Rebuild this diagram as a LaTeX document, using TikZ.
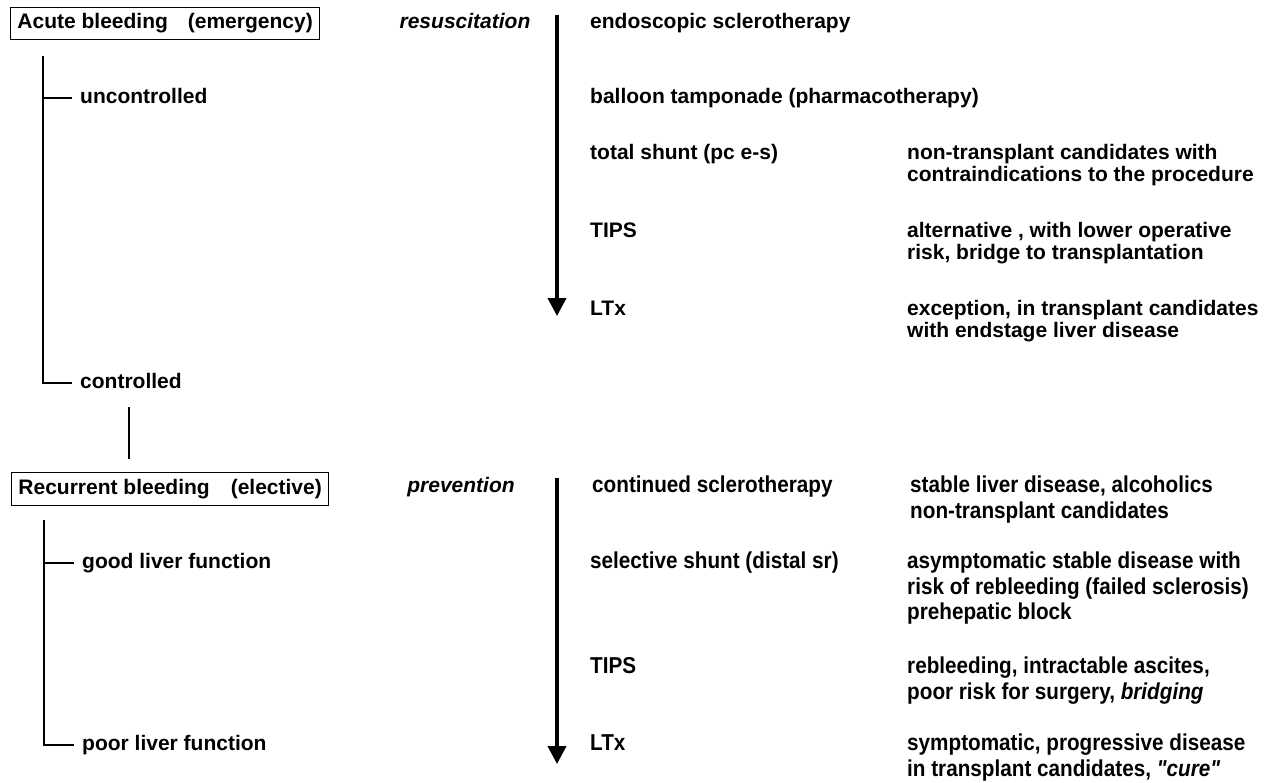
\documentclass[tikz,border=0pt]{standalone}
\usepackage{fontspec}
\setmainfont{Liberation Sans}
\newfontfamily\narrowfont[FakeStretch=0.9]{Liberation Sans}
\usetikzlibrary{arrows.meta}

\begin{document}
\begin{tikzpicture}[x=1pt, y=-1pt,
        every node/.style={font=\fontsize{21}{22}\selectfont\bfseries, inner sep=0pt},
        head/.style={draw, line width=0.9pt, anchor=west, inner xsep=7pt, inner ysep=6.5pt, text height=15pt, text depth=4.5pt},
        leaf/.style={anchor=west, inner xsep=8pt, text height=15pt, text depth=4.5pt},
        item/.style={anchor=west, text height=15pt, text depth=4.5pt},
        stage/.style={font=\fontsize{21}{22}\selectfont\bfseries\itshape, text height=15pt, text depth=4.5pt},
        para/.style={anchor=north west, align=left},
        low/.style={font=\fontsize{23}{25.5}\selectfont\narrowfont\bfseries},
        tree/.style={line width=1.4pt},
        flow/.style={line width=3.8pt, -{Triangle[width=18pt,length=18pt]}}]
        \useasboundingbox (0,0) rectangle (1266,782);
        % emergency
            \node[head] (acute) at (10,23.5) {Acute bleeding\hspace{0.95em}(emergency)};
            \node[leaf] (unc) at (72,98) {uncontrolled};
            \node[leaf] (ctl) at (72,383) {controlled};
            \node[stage] (resus) at (465,23) {resuscitation};
            \node[item] (endo) at (590,23) {endoscopic sclerotherapy};
            \node[item] (ball) at (590,98) {balloon tamponade (pharmacotherapy)};
            \node[item] (tot) at (590,154) {total shunt (pc e-s)};
            \node[item] (tips1) at (590,232) {TIPS};
            \node[item] (ltx1) at (590,310) {LTx};
            \node[para] (r1) at (907,144) {non-transplant candidates with\\contraindications to the procedure};
            \node[para] (r2) at (907,222) {alternative , with lower operative\\risk, bridge to transplantation};
            \node[para] (r3) at (907,300) {exception, in transplant candidates\\with endstage liver disease};
        % elective
            \node[head] (recur) at (11,489) {Recurrent bleeding\hspace{1em}(elective)};
            \node[leaf] (good) at (74,563) {good liver function};
            \node[leaf] (poor) at (74,745) {poor liver function};
            \node[stage] (prev) at (461,487) {prevention};
            \node[item, low] (cont) at (592,487) {continued sclerotherapy};
            \node[item, low] (sel) at (590,563) {selective shunt (distal sr)};
            \node[item, low] (tips2) at (590,668) {TIPS};
            \node[item, low] (ltx2) at (590,745) {LTx};
            \node[para, low] (r4) at (910,476) {stable liver disease, alcoholics\\non-transplant candidates};
            \node[para, low] (r5) at (907,552) {asymptomatic stable disease with\\risk of rebleeding (failed sclerosis)\\prehepatic block};
            \node[para, low] (r6) at (907,657) {rebleeding, intractable ascites,\\poor risk for surgery, \textit{bridging}};
            \node[para, low] (r7) at (907,734) {symptomatic, progressive disease\\in transplant candidates, \textit{"cure"}};
        % trees
            \coordinate (t1) at (43,56);
            \coordinate (t2) at (44,520);
            \coordinate (l) at (129,0);
            \draw[tree] (t1) |- (ctl.west);
            \draw[tree] (t1 |- unc.west) -- (unc.west);
            \draw[tree, shorten <=14pt, shorten >=13pt] (ctl.south -| l) -- (recur.north -| l);
            \draw[tree] (t2) |- (poor.west);
            \draw[tree] (t2 |- good.west) -- (good.west);
        % arrows
            \coordinate (a1) at (557,15);
            \coordinate (b1) at (557,316);
            \coordinate (a2) at (557,478);
            \coordinate (b2) at (557,764);
            \draw[flow] (a1) -- (b1);
            \draw[flow] (a2) -- (b2);
\end{tikzpicture}
\end{document}
